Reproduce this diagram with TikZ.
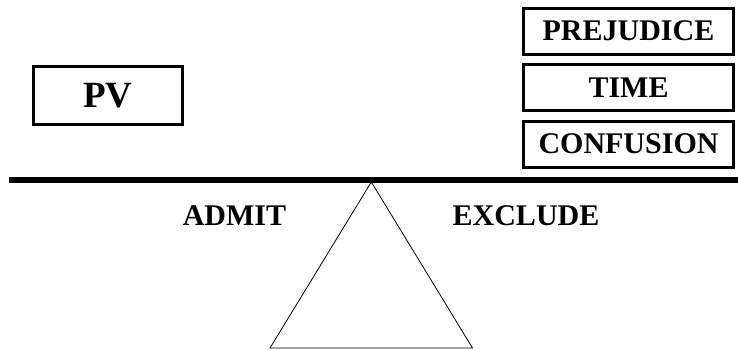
\documentclass[tikz,border=0pt]{standalone}
\usepackage{fontspec}
\setmainfont{Liberation Serif}
\begin{document}
\begin{tikzpicture}[x=1pt,y=1pt,
  mybox/.style={draw,line width=3pt,minimum width=210,minimum height=46,inner sep=0pt,
    font=\fontsize{30}{30}\selectfont\bfseries},
  mylabel/.style={inner sep=0pt,anchor=base,font=\fontsize{30}{30}\selectfont\bfseries}]
\useasboundingbox (0,0) rectangle (738,350);
\node [mybox,minimum width=149,minimum height=58,font=\fontsize{37}{37}\selectfont\bfseries] (pv) at (107.7,254.7) {PV};
  \foreach \txt/\pos in {PREJUDICE/1,TIME/2,CONFUSION/3}
  {  \node [mybox] (\txt) at (628.5,375.3-56.5*\pos) {\txt};}
% fulcrum and beam
\coordinate (apex) at (371.3,168);
\coordinate (baseL) at (270,2);
\coordinate (baseR) at (472.5,2);
\draw [line width=0.8pt] (apex) -- (baseL) -- (baseR) -- cycle;
\coordinate (beamL) at (9,170);
\coordinate (beamR) at (738,170);
\draw [line width=6pt] (beamL) -- (beamR);
\node [mylabel] (admit) at (234.5,124) {ADMIT};
\node [mylabel] (exclude) at (526,124) {EXCLUDE};
\end{tikzpicture}
\end{document}
